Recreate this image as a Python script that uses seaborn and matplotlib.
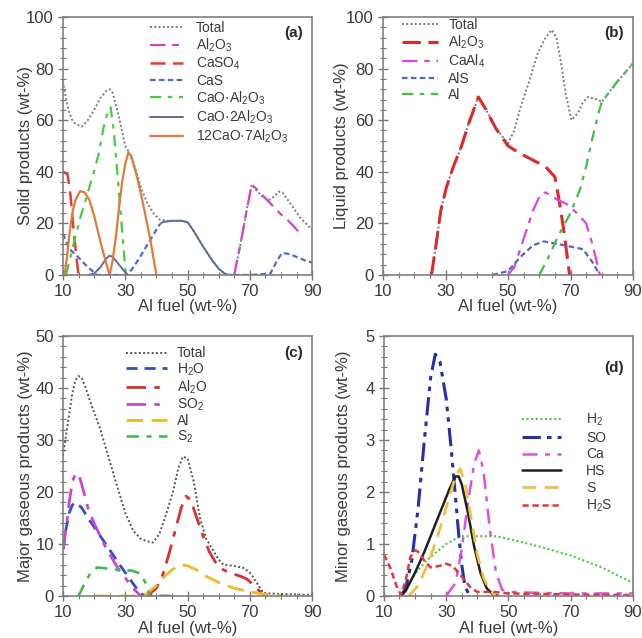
import matplotlib
matplotlib.use('Agg')
import matplotlib.pyplot as plt
from matplotlib.ticker import MultipleLocator, FixedLocator
import seaborn as sns

# ---------------- Panel (a): solid products ----------------
a_total_x = [10, 11, 12, 13, 14, 16, 18, 20, 22, 24, 25, 26, 28, 30, 31, 33, 35, 37, 39, 41, 44, 48, 50, 52, 55, 58, 60, 62, 65, 67, 69, 70.6, 72, 74, 76, 78, 79.2, 80.5, 82, 84, 86, 88, 90]
a_total_y = [75, 68, 63, 60, 58.5, 57.5, 60, 64, 68.5, 71.5, 72, 70.5, 61, 50, 48, 42, 34, 28, 24, 21.5, 21, 21, 20.5, 17, 11, 5.5, 2.5, 0.3, 0, 12, 25, 35, 33, 30.5, 29, 30.5, 32.3, 32, 29.5, 26, 22.5, 20, 17.4]
a_al2o3_x = [65, 67, 69, 70.6, 72, 74, 76, 78, 80, 82, 84, 85.6]
a_al2o3_y = [0, 12, 25, 35, 33.5, 31, 28.5, 26, 23.5, 21.5, 19, 16.8]
a_caso4_x = [10, 11.5, 12.5, 13.5, 14.5, 15]
a_caso4_y = [40, 39, 30, 16, 5, 0]
a_cas1_x = [10, 12, 14, 16, 18, 20, 21, 25, 30, 32, 34, 36, 38, 40, 41]
a_cas1_y = [16, 10, 8, 5.5, 3, 1, 0, 0, 0, 2, 5.5, 9.5, 13.5, 17.5, 19.5]
a_cas2_x = [62, 70, 76.6, 78.5, 80.3, 82, 84, 86, 88, 90]
a_cas2_y = [0, 0, 0.5, 5, 8.5, 8.3, 7.5, 6.5, 5.5, 4.8]
a_cao_al_x = [11, 13, 15.5, 17.5, 19.7, 21.5, 23, 24.5, 25.3, 26.3, 27.3, 28.4, 29.4, 30.2]
a_cao_al_y = [0, 10, 22, 30, 39, 47, 57, 64, 65, 56, 42, 26, 11, 0]
a_cao2_1x = [18, 20, 22, 24, 25, 26, 28, 30, 31]
a_cao2_1y = [0, 0.5, 3, 6.5, 7.5, 7, 4, 1, 0]
a_cao2_2x = [41, 42, 45, 48, 50, 52, 55, 58, 60, 62, 63, 65]
a_cao2_2y = [19.5, 20.5, 21, 21, 20.5, 17, 11, 5.5, 2.5, 0.5, 0, 0]
a_c12_x = [10.5, 11.2, 12, 13, 14, 15.5, 17, 18.5, 20, 22, 24, 25, 26, 27, 28, 29, 30, 31, 32, 34, 36, 38, 39, 40]
a_c12_y = [0, 6, 15, 24, 29, 32.5, 32, 29, 23, 13, 4, 0, 6, 15, 26, 36, 43, 47.5, 46, 37, 26, 14, 7, 0]

# ---------------- Panel (b): liquid products ----------------
b_total_x = [25.5, 27, 28.5, 30.3, 32.5, 35, 37.5, 40.5, 43, 46, 50, 52, 54, 56.5, 59.5, 62, 64, 65.5, 67, 68.5, 70.3, 72.5, 74, 75.6, 77, 78.8, 80, 85, 90]
b_total_y = [0, 12, 25, 34, 42, 49.5, 59, 69, 64, 57, 51, 56, 65, 74, 86, 92, 95, 92, 82, 70, 60, 63, 67, 69, 68.5, 68, 67, 75, 82]
b_al2o3_x = [25.5, 27, 28.5, 30.3, 32.5, 35, 37.5, 40.5, 43, 46, 50, 54, 58, 62, 65, 66.5, 68, 69.7]
b_al2o3_y = [0, 12, 25, 34, 42, 49.5, 59, 69, 64, 57, 50, 47, 44.5, 42, 38, 28, 16, 0]
b_caal4_x = [50, 52, 55, 58, 60.5, 62, 64, 66, 68.8, 72, 75, 77, 79.4]
b_caal4_y = [0, 3, 14, 25, 31.5, 32, 30.5, 29, 27.5, 24, 20, 12, 0]
b_als_x = [45, 50, 54, 58, 61.5, 66, 70, 74, 77, 79.4]
b_als_y = [0, 1.5, 7, 11.5, 13, 12, 11, 10, 5, 0]
b_al_x = [60, 63, 66, 70, 73, 75, 77, 79, 80, 85, 90]
b_al_y = [0, 7, 15, 24, 33, 42, 53, 63, 67, 75, 82]

# ---------------- Panel (c): major gaseous products ----------------
c_total_x = [10, 11, 12, 13, 14, 15, 16, 17, 19, 21.8, 24, 27.2, 30, 32.6, 35, 37, 39, 41, 43, 45.4, 47, 48.5, 50, 52, 54, 56, 58.3, 60, 61.6, 64.8, 68, 70, 71.2, 73, 74.4, 76, 80, 85, 90]
c_total_y = [27, 31, 35, 39, 41.5, 42.3, 42, 40.5, 37, 32.4, 28, 21.5, 16, 12.5, 11, 10.5, 10.3, 12, 15.5, 20.2, 24.5, 26.8, 26.5, 22, 15, 11, 8.7, 7, 6, 5.8, 5.4, 4.5, 3.5, 1.8, 0.6, 0.5, 0.4, 0.3, 0.2]
c_h2o_x = [10, 11, 12, 13, 14, 16, 18, 20, 22, 24, 26, 28, 30, 32, 34, 35.5, 40, 45]
c_h2o_y = [9, 13, 16, 17.5, 18, 17, 15, 13.3, 11.5, 9.8, 8, 6.2, 4.5, 2.8, 1.2, 0.3, 0, 0]
c_al2o_x = [36, 38, 40, 42, 44, 46, 48, 49.5, 51, 53, 55, 57, 59, 61, 63, 65, 67, 69, 71, 73, 75]
c_al2o_y = [0, 0.5, 1.5, 4, 8, 12.5, 17, 19.2, 18.5, 15, 11.5, 8.5, 6.5, 5.2, 4.6, 4.2, 3.8, 3.3, 2.2, 1.0, 0.2]
c_so2_x = [10, 11, 12, 13, 14, 15, 16, 18, 20, 22, 24, 26, 28, 30, 32, 34, 35]
c_so2_y = [9, 13, 18, 22, 23.5, 23.5, 21.5, 17, 14, 11.5, 9, 7, 5, 3.5, 1.8, 0.6, 0]
c_al_x = [20, 30, 35, 37, 40, 43, 46, 48, 50, 53, 56, 60, 65, 70, 75, 80]
c_al_y = [0, 0, 0, 0.5, 2, 4, 5.5, 6, 5.8, 5, 3.8, 2.6, 1.5, 0.8, 0.3, 0.1]
c_s2_x = [15, 17, 19, 21, 24, 28, 32, 35, 36.5, 38]
c_s2_y = [0, 2.5, 4.6, 5.5, 5.3, 5.0, 4.9, 4.3, 2.5, 0]

# ---------------- Panel (d): minor gaseous products ----------------
d_h2_x = [15.5, 18, 21, 24, 27, 30, 33, 35, 40, 46, 50, 60, 70, 80, 90]
d_h2_y = [0, 0.25, 0.5, 0.7, 0.85, 1.0, 1.1, 1.15, 1.15, 1.15, 1.1, 0.95, 0.78, 0.55, 0.25]
d_so_x = [15.5, 17, 19, 21, 23, 25, 26.5, 28, 30, 31.5, 33, 34, 35, 36, 37.5]
d_so_y = [0, 0.15, 0.7, 1.7, 3.0, 4.2, 4.65, 4.5, 3.8, 2.9, 1.9, 1.2, 0.6, 0.2, 0]
d_ca_x = [30, 33, 35, 37, 39, 40.5, 42, 44, 46, 48, 50, 60, 70, 80, 90]
d_ca_y = [0, 0.25, 0.9, 1.8, 2.55, 2.8, 2.4, 1.3, 0.45, 0.12, 0.08, 0.06, 0.05, 0.05, 0.05]
d_hs_x = [15.5, 17, 20, 23, 26, 29, 31, 33, 34, 35, 37, 39, 41, 43, 45, 47]
d_hs_y = [0, 0.1, 0.45, 0.85, 1.3, 1.75, 2.05, 2.3, 2.3, 2.15, 1.6, 0.95, 0.45, 0.15, 0.03, 0]
d_s_x = [18, 21, 24, 27, 30, 33, 34.5, 36, 38, 40, 42, 44, 46]
d_s_y = [0, 0.2, 0.6, 1.1, 1.7, 2.3, 2.45, 2.2, 1.5, 0.8, 0.35, 0.1, 0]
d_h2s_x = [10, 12, 14, 15.5, 17, 18.5, 20, 21, 23, 25, 28, 30, 32, 34, 36, 38, 40, 45, 50, 60, 70, 80, 90]
d_h2s_y = [0.8, 0.55, 0.2, 0.02, 0.3, 0.75, 0.88, 0.85, 0.68, 0.55, 0.58, 0.62, 0.58, 0.45, 0.3, 0.15, 0.08, 0.08, 0.05, 0.04, 0.03, 0.02, 0.02]

x_ticks = [10, 30, 50, 70, 90]

sns.set_theme(style='white')
plt.rcParams['font.family'] = ['Liberation Sans', 'DejaVu Sans']
plt.rcParams['mathtext.default'] = 'regular'

TXT = '#3a3a3a'
fig = plt.figure(figsize=(6.42, 6.38), dpi=100)
ax_a = fig.add_axes([0.0981, 0.569, 0.388, 0.4044])
ax_b = fig.add_axes([0.5966, 0.569, 0.3894, 0.4044])
ax_c = fig.add_axes([0.0981, 0.0658, 0.388, 0.4075])
ax_d = fig.add_axes([0.598, 0.0658, 0.3879, 0.4075])

DOT = (0, (1, 1.2))


def line(ax, x, y, color, ls, lw=1.5, label=None):
    kw = dict(x=x, y=y, ax=ax, color=color, linestyle=ls, linewidth=lw, sort=False)
    if label is not None:
        kw['label'] = label
    sns.lineplot(**kw)


# (a)
line(ax_a, a_total_x, a_total_y, '#7a7a7a', DOT, 1.4, 'Total')
line(ax_a, a_al2o3_x, a_al2o3_y, '#cc44cc', (0, (7, 3, 3, 3)), 1.6, 'Al$_2$O$_3$')
line(ax_a, a_caso4_x, a_caso4_y, '#e03c3c', (0, (6, 3)), 1.8, 'CaSO$_4$')
line(ax_a, a_cas1_x, a_cas1_y, '#4a6ad0', (0, (2.5, 1.5)), 1.6, 'CaS')
line(ax_a, a_cas2_x, a_cas2_y, '#4a6ad0', (0, (2.5, 1.5)), 1.6)
line(ax_a, a_cao_al_x, a_cao_al_y, '#44cc44', (0, (5, 3, 2, 3)), 1.6, 'CaO·Al$_2$O$_3$')
line(ax_a, a_cao2_1x, a_cao2_1y, '#5a6e9a', '-', 1.4, 'CaO·2Al$_2$O$_3$')
line(ax_a, a_cao2_2x, a_cao2_2y, '#5a6e9a', '-', 1.4)
line(ax_a, a_c12_x, a_c12_y, '#e07a3a', '-', 1.6, '12CaO·7Al$_2$O$_3$')

# (b)
line(ax_b, b_total_x, b_total_y, '#7a7a7a', DOT, 1.4, 'Total')
line(ax_b, b_al2o3_x, b_al2o3_y, '#e02828', (0, (6, 2.5)), 2.2, 'Al$_2$O$_3$')
line(ax_b, b_caal4_x, b_caal4_y, '#dd44dd', (0, (7, 3, 2.5, 3)), 1.6, 'CaAl$_4$')
line(ax_b, b_als_x, b_als_y, '#5068c8', (0, (2.5, 1.5)), 1.6, 'AlS')
line(ax_b, b_al_x, b_al_y, '#40c040', (0, (5, 3, 2, 3)), 1.6, 'Al')

# (c)
line(ax_c, c_total_x, c_total_y, '#555555', DOT, 1.4, 'Total')
line(ax_c, c_h2o_x, c_h2o_y, '#3050c8', (0, (4, 2.5)), 2.0, 'H$_2$O')
line(ax_c, c_al2o_x, c_al2o_y, '#d83030', (0, (7, 3, 2, 3)), 2.0, 'Al$_2$O')
line(ax_c, c_so2_x, c_so2_y, '#cc44cc', (0, (7, 3, 2, 3)), 2.0, 'SO$_2$')
line(ax_c, c_al_x, c_al_y, '#f0b828', (0, (6, 3)), 2.0, 'Al')
line(ax_c, c_s2_x, c_s2_y, '#40b840', (0, (5, 3, 2, 3)), 1.8, 'S$_2$')

# (d)
line(ax_d, d_h2_x, d_h2_y, '#40d040', DOT, 1.5, 'H$_2$')
line(ax_d, d_so_x, d_so_y, '#2830a8', (0, (6, 2, 1.5, 2, 1.5, 2)), 2.2, 'SO')
line(ax_d, d_ca_x, d_ca_y, '#e050e0', (0, (6, 3, 2, 3)), 1.8, 'Ca')
line(ax_d, d_hs_x, d_hs_y, '#202020', '-', 1.8, 'HS')
line(ax_d, d_s_x, d_s_y, '#f0c040', (0, (5, 3)), 2.0, 'S')
line(ax_d, d_h2s_x, d_h2s_y, '#e03838', (0, (2.5, 1.5)), 1.8, 'H$_2$S')

panels = [
    (ax_a, 100, 20, 'Solid products (wt-%)', '(a)', (0.924, 0.938), -0.12, -0.093,
     (0.35, 0.985), 2.4, 0.9, 0.12),
    (ax_b, 100, 20, 'Liquid products (wt-%)', '(b)', (0.924, 0.938), -0.136, -0.093,
     (0.075, 0.995), 2.6, 0.75, 0.12),
    (ax_c, 50, 10, 'Major gaseous products (wt-%)', '(c)', (0.924, 0.935), -0.12, -0.096,
     (0.255, 0.96), 2.9, 0.75, 0.06),
    (ax_d, 5, 1, 'Minor gaseous products (wt-%)', '(d)', (0.924, 0.877), -0.133, -0.096,
     (0.555, 0.71), 2.8, 1.8, 0.2),
]

for ax, ymax, ystep, ylab, tag, tagpos, ylx, xly, lpos, hl, htp, ls in panels:
    ax.set_xlim(10, 90)
    ax.set_ylim(0, ymax)
    ax.xaxis.set_major_locator(FixedLocator(x_ticks))
    ax.xaxis.set_minor_locator(MultipleLocator(5))
    ax.yaxis.set_major_locator(MultipleLocator(ystep))
    ax.yaxis.set_minor_locator(MultipleLocator(ystep / 5))
    ax.tick_params(which='major', direction='inout', length=7, width=1.0, color='#777777',
                   labelsize=12, labelcolor=TXT, pad=3, bottom=True, left=True, top=False, right=False)
    ax.tick_params(which='minor', direction='inout', length=4, width=0.8, color='#777777',
                   bottom=True, left=True, top=False, right=False)
    for sp in ax.spines.values():
        sp.set_visible(True)
        sp.set_color('#808080')
        sp.set_linewidth(1.2)
    ax.set_xlabel('Al fuel (wt-%)', fontsize=12, color=TXT)
    ax.set_ylabel(ylab, fontsize=12, color=TXT)
    ax.yaxis.set_label_coords(ylx, 0.5)
    ax.xaxis.set_label_coords(0.5, xly)
    ax.text(tagpos[0], tagpos[1], tag, transform=ax.transAxes, ha='center', va='center',
            fontsize=11, fontweight='bold', color='#2a2a2a')
    handles, labels = ax.get_legend_handles_labels()
    ax.legend(handles, labels, loc='upper left', bbox_to_anchor=lpos, frameon=False,
              fontsize=10, labelcolor=TXT, borderaxespad=0, borderpad=0,
              handlelength=hl, handletextpad=htp, labelspacing=ls)

fig.savefig('out.png', dpi=100)
